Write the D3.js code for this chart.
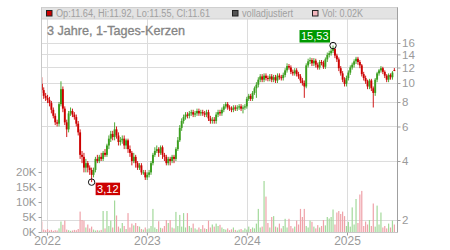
<!DOCTYPE html>
<html>
<head>
<meta charset="utf-8">
<script src="https://cdn.jsdelivr.net/npm/d3@7"></script>
<style>
  body { margin: 0; background: #fff; }
  svg { display: block; font-family: "Liberation Sans", Arial, sans-serif; }
</style>
</head>
<body>
<svg id="chart" width="450" height="250"></svg>
<script>
// weekly candles, first week starting 2021-12-13
const startDate = new Date(Date.UTC(2021, 11, 13));

const opens = [
  9.9, 9.2, 8.6, 8.4, 8.2, 7.9, 7.3, 6.8, 6.3, 6.2, 7.8, 9.3, 7.4, 6.3, 5.8, 7.0, 7.2, 6.9, 6.7, 6.2, 5.6, 4.3, 4.2,
  3.7, 3.9, 3.7, 3.6, 3.4, 3.6, 4.1, 4.0, 4.2, 4.1, 4.4, 4.3, 4.8, 5.2, 5.5, 5.3, 5.8, 5.4, 5.0, 5.1, 5.2, 4.8, 5.1, 4.6,
  4.4, 4.0, 4.2, 3.9, 3.7, 3.8, 3.5, 3.5, 3.3, 3.4, 3.5, 3.9, 4.3, 4.5, 4.6, 4.4, 4.7, 4.3, 4.2, 3.9, 4.1, 4.0, 4.2, 4.1,
  4.6, 5.1, 5.9, 6.4, 6.7, 6.9, 6.8, 7.0, 7.1, 6.9, 7.0, 7.2, 7.0, 7.1, 7.0, 6.9, 7.1, 6.6, 6.4, 6.5, 6.4, 6.9, 7.1, 7.0,
  7.3, 7.6, 7.8, 7.5, 7.4, 7.3, 7.5, 7.4, 7.5, 7.6, 7.4, 7.5, 7.6, 8.3, 8.6, 8.3, 8.9, 9.4, 9.8, 10.4, 10.8, 10.4, 10.9, 10.6,
  10.5, 10.8, 10.4, 10.7, 10.3, 10.9, 10.7, 10.6, 11.0, 11.6, 12.2, 12.0, 11.4, 11.2, 11.6, 11.1, 10.8, 10.3, 10.0, 9.6, 12.3, 12.9, 13.1, 12.6,
  13.0, 12.4, 12.0, 12.8, 12.7, 12.1, 13.2, 13.9, 14.2, 14.6, 14.9, 13.8, 13.2, 11.9, 11.2, 10.4, 9.9, 10.6, 11.3, 12.0, 12.4, 12.9, 13.3, 12.8,
  12.3, 11.1, 10.6, 10.2, 9.6, 10.3, 9.4, 8.9, 10.4, 11.2, 11.6, 11.9, 11.4, 10.9, 10.4, 11.0, 10.7, 11.64
];

const highs = [
  10.7, 9.5, 8.9, 8.7, 8.5, 8.1, 7.5, 7.0, 6.5, 8.0, 10.2, 9.6, 7.6, 6.5, 7.2, 7.5, 7.4, 7.1, 6.9, 6.4, 5.8, 4.5, 4.4,
  4.1, 4.0, 3.8, 3.7, 3.7, 4.2, 4.3, 4.3, 4.4, 4.5, 4.6, 4.9, 5.4, 5.7, 5.7, 6.3, 6.0, 5.6, 5.3, 5.4, 5.4, 5.2, 5.2, 4.8,
  4.5, 4.4, 4.3, 4.0, 3.9, 3.9, 3.6, 3.6, 3.5, 3.6, 4.0, 4.4, 4.7, 4.8, 4.7, 4.8, 4.8, 4.4, 4.3, 4.2, 4.2, 4.3, 4.3, 4.7,
  5.3, 6.1, 6.6, 6.9, 7.1, 7.1, 7.2, 7.3, 7.3, 7.2, 7.4, 7.4, 7.3, 7.3, 7.2, 7.3, 7.3, 6.8, 6.7, 6.7, 7.1, 7.3, 7.3, 7.5,
  7.8, 8.0, 8.0, 7.7, 7.6, 7.7, 7.7, 7.7, 7.8, 7.8, 7.7, 7.8, 8.5, 8.8, 8.8, 9.1, 9.6, 10.1, 10.7, 11.1, 11.1, 11.2, 11.2, 10.9,
  11.1, 11.1, 11.0, 11.0, 11.2, 11.2, 11.0, 11.3, 11.9, 12.6, 12.5, 12.3, 11.7, 11.9, 11.9, 11.4, 11.1, 10.6, 10.3, 12.6, 13.3, 13.5, 13.4, 13.4,
  13.3, 12.7, 13.1, 13.1, 13.0, 13.5, 14.3, 14.6, 15.0, 15.53, 15.1, 14.1, 13.5, 12.2, 11.5, 10.7, 10.9, 11.6, 12.3, 12.7, 13.2, 13.6, 13.6, 13.1,
  12.5, 11.4, 10.9, 10.4, 10.5, 10.5, 9.6, 10.6, 11.4, 11.8, 12.2, 12.1, 11.6, 11.1, 11.2, 11.2, 11.5, 11.92
];

const lows = [
  8.9, 8.3, 8.1, 7.9, 7.6, 7.0, 6.6, 6.1, 6.0, 6.0, 7.6, 7.1, 6.1, 5.3, 5.6, 6.8, 6.7, 6.5, 6.0, 5.4, 4.1, 3.9, 3.5,
  3.5, 3.5, 3.4, 3.12, 3.3, 3.5, 3.9, 3.9, 4.0, 4.0, 4.2, 4.2, 4.6, 5.0, 5.1, 5.1, 5.2, 4.8, 4.8, 4.9, 4.6, 4.6, 4.4, 4.2,
  3.8, 3.9, 3.7, 3.6, 3.6, 3.4, 3.4, 3.2, 3.2, 3.3, 3.4, 3.8, 4.2, 4.4, 4.2, 4.3, 4.1, 4.0, 3.8, 3.8, 3.8, 3.9, 3.9, 4.0,
  4.5, 5.0, 5.7, 6.2, 6.5, 6.6, 6.6, 6.8, 6.7, 6.7, 6.8, 6.8, 6.8, 6.8, 6.7, 6.7, 6.4, 6.2, 6.2, 6.2, 6.2, 6.7, 6.8, 6.8,
  7.1, 7.4, 7.3, 7.2, 7.1, 7.1, 7.2, 7.2, 7.3, 7.2, 7.0, 7.3, 7.4, 8.1, 8.1, 8.1, 8.7, 8.4, 9.5, 10.1, 10.1, 10.1, 10.3, 10.2,
  10.2, 10.1, 10.1, 10.0, 10.0, 10.4, 10.3, 10.3, 10.7, 11.3, 11.7, 11.1, 10.9, 10.9, 10.8, 10.5, 10.0, 9.7, 8.4, 9.4, 12.0, 12.5, 12.2, 12.2,
  12.0, 11.7, 11.7, 12.3, 11.8, 11.8, 12.8, 13.5, 13.8, 14.2, 13.4, 12.8, 11.5, 10.9, 10.1, 9.6, 9.6, 10.3, 11.0, 11.7, 12.0, 12.5, 12.4, 11.9,
  10.8, 10.3, 9.9, 9.3, 9.3, 9.1, 7.5, 8.6, 10.1, 10.9, 11.3, 11.1, 10.6, 10.1, 10.1, 10.4, 10.4, 11.55
];

const closes = [
  9.2, 8.6, 8.4, 8.2, 7.9, 7.3, 6.8, 6.3, 6.2, 7.8, 9.3, 7.4, 6.3, 5.8, 7.0, 7.2, 6.9, 6.7, 6.2, 5.6, 4.3, 4.2, 3.7,
  3.9, 3.7, 3.6, 3.4, 3.6, 4.1, 4.0, 4.2, 4.1, 4.4, 4.3, 4.8, 5.2, 5.5, 5.3, 5.8, 5.4, 5.0, 5.1, 5.2, 4.8, 5.1, 4.6, 4.4,
  4.0, 4.2, 3.9, 3.7, 3.8, 3.5, 3.5, 3.3, 3.4, 3.5, 3.9, 4.3, 4.5, 4.6, 4.4, 4.7, 4.3, 4.2, 3.9, 4.1, 4.0, 4.2, 4.1, 4.6,
  5.1, 5.9, 6.4, 6.7, 6.9, 6.8, 7.0, 7.1, 6.9, 7.0, 7.2, 7.0, 7.1, 7.0, 6.9, 7.1, 6.6, 6.4, 6.5, 6.4, 6.9, 7.1, 7.0, 7.3,
  7.6, 7.8, 7.5, 7.4, 7.3, 7.5, 7.4, 7.5, 7.6, 7.4, 7.5, 7.6, 8.3, 8.6, 8.3, 8.9, 9.4, 9.8, 10.4, 10.8, 10.4, 10.9, 10.6, 10.5,
  10.8, 10.4, 10.7, 10.3, 10.9, 10.7, 10.6, 11.0, 11.6, 12.2, 12.0, 11.4, 11.2, 11.6, 11.1, 10.8, 10.3, 10.0, 9.6, 12.3, 12.9, 13.1, 12.6, 13.0,
  12.4, 12.0, 12.8, 12.7, 12.1, 13.2, 13.9, 14.2, 14.6, 14.9, 13.8, 13.2, 11.9, 11.2, 10.4, 9.9, 10.6, 11.3, 12.0, 12.4, 12.9, 13.3, 12.8, 12.3,
  11.1, 10.6, 10.2, 9.6, 10.3, 9.4, 8.9, 10.4, 11.2, 11.6, 11.9, 11.4, 10.9, 10.4, 11.0, 10.7, 11.3, 11.61
];

// volume in thousand shares
const volumes = [
  3.5, 0.8, 0.6, 1.0, 0.5, 0.7, 0.4, 0.6, 0.5, 1.2,
  3.5, 2.4, 3.8, 0.8, 0.6, 0.4, 0.5, 0.7, 0.6, 1.0,
  6.8, 4.0, 3.8, 1.5, 2.5, 1.2, 1.8, 0.8, 0.5, 0.6,
  0.5, 0.7, 7.0, 1.2, 7.0, 2.0, 3.8, 1.5, 10.5, 5.5,
  1.8, 1.2, 3.0, 2.0, 1.0, 6.3, 1.5, 2.8, 2.2, 3.0,
  2.0, 1.8, 1.0, 0.8, 1.5, 0.9, 1.2, 2.0, 7.7, 1.5,
  1.0, 3.6, 1.4, 1.2, 2.0, 4.0, 3.0, 4.0, 1.5, 1.2,
  6.7, 2.0, 5.7, 1.8, 6.3, 1.5, 6.3, 2.0, 1.4, 2.8,
  1.2, 0.8, 1.5, 1.0, 2.3, 1.2, 1.0, 3.8, 1.5, 2.5,
  1.8, 2.8, 2.0, 2.4, 1.5, 1.0, 0.8, 1.2, 0.6, 0.9,
  1.5, 0.7, 0.5, 0.8, 1.0, 0.6, 1.2, 0.8, 1.8, 1.0,
  1.5, 1.2, 2.8, 7.7, 1.5, 1.8, 17.0, 11.8, 3.0, 1.5,
  5.0, 5.3, 1.8, 1.5, 2.8, 1.2, 2.0, 4.4, 1.5, 4.4,
  2.0, 1.2, 1.8, 3.8, 2.5, 7.7, 5.0, 7.7, 2.0, 1.5,
  3.8, 3.4, 1.8, 1.2, 2.3, 1.5, 2.0, 4.0, 2.2, 5.0,
  4.5, 5.0, 7.5, 2.5, 6.5, 7.0, 6.0, 6.8, 5.3, 2.0,
  3.4, 1.8, 8.2, 2.5, 11.0, 3.0, 12.5, 13.7, 2.0, 3.5,
  2.5, 4.0, 2.0, 9.5, 1.8, 8.8, 2.5, 6.5, 1.5, 2.0,
  1.2, 2.8, 1.5, 3.8, 2.5
];

const priceTicks = [2, 4, 6, 8, 10, 12, 14, 16];
const volumeTicks = [0, 5, 10, 15, 20];
const yearTicks = [2022, 2023, 2024, 2025];

const title = "3 Jahre, 1-Tages-Kerzen";
const legendItems = ["Op:11.64, Hi:11.92, Lo:11.55, Cl:11.61", "volladjustiert", "Vol: 0.02K"];

const plotL = 41.5, plotR = 397.5, plotT = 7.5, plotB = 232.5, bandB = 19;
const green = "#3b9e1f", red = "#cc0000";

const data = closes.map((c, i) => ({
  date: d3.utcDay.offset(startDate, i * 7),
  open: opens[i], high: highs[i], low: lows[i], close: c, vol: volumes[i]
}));

const x = d3.scaleUtc()
  .domain([new Date(Date.UTC(2022, 0, 1)), new Date(Date.UTC(2025, 0, 1))])
  .range([47, 347]);

const y = d3.scaleLog()
  .domain([2, 16])
  .range([220, 43]);

const yVol = d3.scaleLinear()
  .domain([0, 20])
  .range([232, 172]);

const svg = d3.select("#chart");

svg.append("defs").append("clipPath")
  .attr("id", "plot-clip")
  .append("rect")
  .attr("x", plotL).attr("y", bandB)
  .attr("width", plotR - plotL).attr("height", plotB - bandB);

// grid
svg.append("g").selectAll("line")
  .data(priceTicks)
  .join("line")
  .attr("x1", plotL).attr("x2", plotR)
  .attr("y1", d => Math.round(y(d)) + 0.5).attr("y2", d => Math.round(y(d)) + 0.5)
  .attr("stroke", "#dcdcdc");

svg.append("g").selectAll("line")
  .data(yearTicks)
  .join("line")
  .attr("x1", d => Math.round(x(new Date(Date.UTC(d, 0, 1)))) + 0.5)
  .attr("x2", d => Math.round(x(new Date(Date.UTC(d, 0, 1)))) + 0.5)
  .attr("y1", plotT).attr("y2", plotB)
  .attr("stroke", "#dcdcdc");

// legend band
svg.append("rect")
  .attr("x", plotL).attr("y", plotT)
  .attr("width", plotR - plotL).attr("height", bandB - plotT)
  .attr("fill", "#e3e3e3")
  .attr("stroke", "#cfcfcf");

const plot = svg.append("g").attr("clip-path", "url(#plot-clip)");

// volume bars
plot.append("g")
  .selectAll("rect")
  .data(data)
  .join("rect")
  .attr("x", d => x(d.date) - 0.6)
  .attr("width", 1.2)
  .attr("y", d => yVol(d.vol))
  .attr("height", d => yVol(0) - yVol(d.vol))
  .attr("fill", d => d.close >= d.open ? "#a3d99b" : "#efa2a9");

// candles
const candles = plot.append("g")
  .selectAll("g")
  .data(data)
  .join("g")
  .attr("fill", d => d.close >= d.open ? green : red)
  .attr("stroke", d => d.close >= d.open ? green : red);

candles.append("line")
  .attr("x1", d => x(d.date)).attr("x2", d => x(d.date))
  .attr("y1", d => y(d.high)).attr("y2", d => y(d.low))
  .attr("stroke-width", 0.9);

candles.append("rect")
  .attr("x", d => x(d.date) - 0.95)
  .attr("width", 1.9)
  .attr("y", d => y(Math.max(d.open, d.close)))
  .attr("height", d => Math.max(1, Math.abs(y(d.open) - y(d.close))))
  .attr("stroke", "none");

// frame lines
svg.append("line")
  .attr("x1", plotL).attr("x2", plotL).attr("y1", plotT).attr("y2", plotB)
  .attr("stroke", "#c8c8c8");
svg.append("line")
  .attr("x1", plotL).attr("x2", plotR).attr("y1", plotB).attr("y2", plotB)
  .attr("stroke", "#c8c8c8");

// axes
const axisText = sel => sel.selectAll("text")
  .attr("fill", "#9a9a9a")
  .attr("font-family", "'Liberation Sans', Arial, sans-serif");

const rightAxis = svg.append("g")
  .attr("transform", `translate(${plotR},0)`)
  .call(d3.axisRight(y).tickValues(priceTicks).tickFormat(d3.format("d")).tickSize(3).tickPadding(1.5))
  .attr("font-size", 11.5);
rightAxis.select(".domain").attr("stroke", "#a0a0a0").attr("d", `M0,${plotT}V${plotB}`);
rightAxis.selectAll(".tick line").attr("stroke", "#a0a0a0");
rightAxis.call(axisText);

const volAxis = svg.append("g")
  .attr("transform", `translate(${plotL},0)`)
  .call(d3.axisLeft(yVol).tickValues(volumeTicks).tickFormat(d => d + "K").tickSize(3).tickPadding(2))
  .attr("font-size", 11.5);
volAxis.select(".domain").remove();
volAxis.selectAll(".tick line").attr("stroke", "#a0a0a0");
volAxis.call(axisText);

const xAxis = svg.append("g")
  .attr("transform", `translate(0,${plotB})`)
  .call(d3.axisBottom(x)
    .tickValues(yearTicks.map(d => new Date(Date.UTC(d, 0, 1))))
    .tickFormat(d3.utcFormat("%Y"))
    .tickSize(3).tickPadding(1))
  .attr("font-size", 12);
xAxis.select(".domain").remove();
xAxis.selectAll(".tick line").attr("stroke", "#a0a0a0");
xAxis.call(axisText);

// title
svg.append("text")
  .attr("x", 47).attr("y", 34.5)
  .attr("font-size", 13.5)
  .attr("textLength", 138)
  .attr("lengthAdjust", "spacingAndGlyphs")
  .attr("fill", "#858585")
  .style("paint-order", "stroke")
  .attr("stroke", "#858585")
  .attr("stroke-width", 0.35)
  .text(title);

// legend
const legendX = [46, 232, 312];
const legendW = [154, 51, 41];
const legendFill = [red, "#555555", "#f3b6bd"];
const legend = svg.append("g")
  .selectAll("g")
  .data(legendItems)
  .join("g")
  .attr("transform", (d, i) => `translate(${legendX[i]},0)`);

legend.append("rect")
  .attr("x", 0.5).attr("y", 10.5)
  .attr("width", 5.5).attr("height", 5.5)
  .attr("fill", (d, i) => legendFill[i])
  .attr("stroke", "#222");

legend.append("text")
  .attr("x", 10).attr("y", 16.8)
  .attr("font-size", 10)
  .attr("textLength", (d, i) => legendW[i])
  .attr("lengthAdjust", "spacingAndGlyphs")
  .attr("fill", "#a0a0a0")
  .text(d => d);

// high / low markers
const hiIdx = d3.maxIndex(data, d => d.high);
const loIdx = d3.minIndex(data, d => d.low);
const fmt = v => v.toFixed(2).replace(".", ",");

const marks = [
  { d: data[hiIdx], v: data[hiIdx].high, color: "#009900", side: "hi" },
  { d: data[loIdx], v: data[loIdx].low, color: red, side: "lo" }
];

marks.forEach(m => {
  const cx = x(m.d.date), cy = y(m.v);
  svg.append("circle")
    .attr("cx", cx).attr("cy", cy).attr("r", 3.2)
    .attr("fill", "none").attr("stroke", "#111").attr("stroke-width", 1);
  const g = svg.append("g");
  const rect = g.append("rect").attr("fill", m.color);
  const txt = g.append("text")
    .attr("font-size", 11)
    .attr("fill", "#fff")
    .text(fmt(m.v));
  const w = txt.node().getComputedTextLength() + 3, h = 12.5;
  const bx = m.side === "hi" ? cx - w - 3 : cx + 4;
  const by = m.side === "hi" ? cy - h - 3 : cy + 0.5;
  rect.attr("x", bx).attr("y", by).attr("width", w).attr("height", h);
  txt.attr("x", bx + 1.5).attr("y", by + h - 2.5);
});
</script>
</body>
</html>
